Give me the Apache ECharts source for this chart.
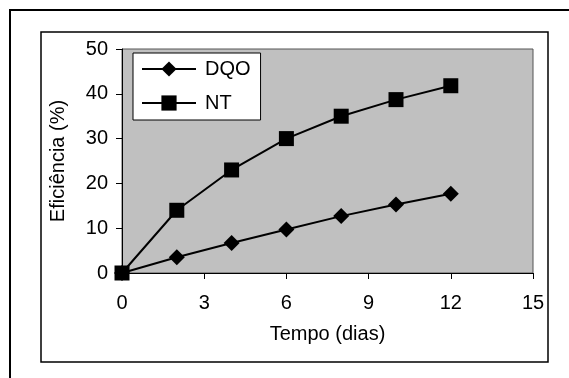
<!DOCTYPE html>
<html>
<head>
<meta charset="utf-8">
<script src="https://cdn.jsdelivr.net/npm/echarts@6/dist/echarts.min.js"></script>
<style>html,body{margin:0;padding:0;background:#fff}#c{width:569px;height:378px}</style>
</head>
<body>
<div id="c"></div>
<script>
const days = [0, 2, 4, 6, 8, 10, 12];
const dqo = [0, 3.5, 6.7, 9.7, 12.7, 15.3, 17.7];
const nt = [0, 14, 23, 30, 35, 38.7, 41.8];
const seriesNames = ['DQO', 'NT'];
const xTitle = 'Tempo (dias)';
const yTitle = 'Eficiência (%)';

const font = 'Liberation Sans, Arial, sans-serif';
const fs = 20;
const chart = echarts.init(document.getElementById('c'), null, {renderer: 'canvas'});
chart.setOption({
  animation: false,
  backgroundColor: '#fff',
  textStyle: {fontFamily: font},
  graphic: [
    {type: 'rect', shape: {x: 10, y: 10, width: 600, height: 400}, style: {fill: 'none', stroke: '#000', lineWidth: 2}, z: 0},
    {type: 'rect', shape: {x: 41, y: 32, width: 507, height: 330}, style: {fill: 'none', stroke: '#000', lineWidth: 1.5}, z: 0}
  ],
  grid: {left: 122, top: 49, width: 411, height: 224, show: true, backgroundColor: '#C0C0C0', borderColor: '#555', borderWidth: 1},
  legend: {
    orient: 'vertical', left: 133, top: 53,
    backgroundColor: '#fff', borderColor: '#000', borderWidth: 1,
    padding: [6, 10, 7, 8], itemGap: 14, itemWidth: 54, itemHeight: 19,
    lineStyle: {width: 2, color: '#000'},
    textStyle: {fontSize: fs, color: '#000', fontFamily: font, padding: [0, 0, 0, 4]},
    data: seriesNames
  },
  xAxis: {
    type: 'value', min: 0, max: 15, interval: 3,
    name: xTitle, nameLocation: 'middle', nameGap: 51,
    nameTextStyle: {fontSize: fs, color: '#000', fontFamily: font},
    axisLine: {show: true, onZero: false, lineStyle: {color: '#000', width: 1}},
    axisTick: {show: true, inside: false, length: 6, lineStyle: {color: '#000'}},
    axisLabel: {fontSize: fs, color: '#000', margin: 20, fontFamily: font},
    splitLine: {show: false}
  },
  yAxis: {
    type: 'value', min: 0, max: 50, interval: 10,
    name: yTitle, nameLocation: 'middle', nameGap: 54, nameRotate: 90,
    nameTextStyle: {fontSize: fs, color: '#000', fontFamily: font},
    axisLine: {show: true, lineStyle: {color: '#000', width: 1}},
    axisTick: {show: true, inside: false, length: 6, lineStyle: {color: '#000'}},
    axisLabel: {fontSize: fs, color: '#000', margin: 14, fontFamily: font},
    splitLine: {show: false}
  },
  series: [
    {name: seriesNames[0], type: 'line', data: days.map((d, i) => [d, dqo[i]]),
     symbol: 'diamond', symbolSize: 16, lineStyle: {color: '#000', width: 2},
     itemStyle: {color: '#000'}, z: 3},
    {name: seriesNames[1], type: 'line', data: days.map((d, i) => [d, nt[i]]),
     symbol: 'rect', symbolSize: 15, lineStyle: {color: '#000', width: 2},
     itemStyle: {color: '#000'}, z: 4}
  ]
});
</script>
</body>
</html>
